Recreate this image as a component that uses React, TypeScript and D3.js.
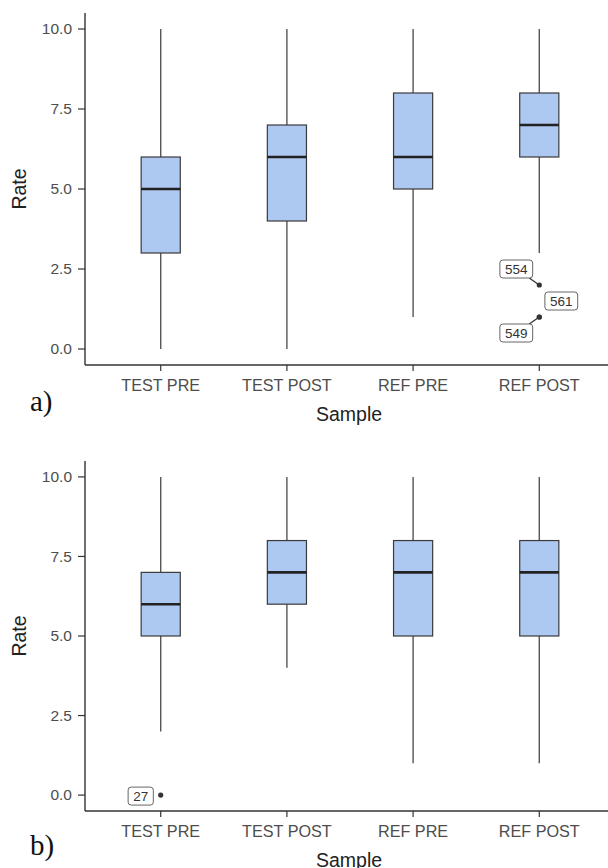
import React from "react";
import * as d3 from "d3";

const categories = ["TEST PRE", "TEST POST", "REF PRE", "REF POST"];
const yTicks = [0, 2.5, 5, 7.5, 10];

// Panel a
const aLow = [0, 0, 1, 3];
const aQ1 = [3, 4, 5, 6];
const aMed = [5, 6, 6, 7];
const aQ3 = [6, 7, 8, 8];
const aHigh = [10, 10, 10, 10];
const aOutCat = ["REF POST", "REF POST", "REF POST"];
const aOutVal = [2, 1, 1];
const aOutLabel = ["554", "549", "561"];

// Panel b
const bLow = [2, 4, 1, 1];
const bQ1 = [5, 6, 5, 5];
const bMed = [6, 7, 7, 7];
const bQ3 = [7, 8, 8, 8];
const bHigh = [10, 10, 10, 10];
const bOutCat = ["TEST PRE"];
const bOutVal = [0];
const bOutLabel = ["27"];

// label placement (layout, repel-like offsets in px)
const aLabelDx = [-23, -23, 22];
const aLabelDy = [-16, 16, -16];
const aLabelSeg = [true, true, false];
const bLabelDx = [-20];
const bLabelDy = [1];
const bLabelSeg = [false];

const SANS = "'Liberation Sans', Arial, sans-serif";

type PanelProps = {
  top: number;
  bottom: number;
  low: number[];
  q1: number[];
  med: number[];
  q3: number[];
  high: number[];
  outCat: string[];
  outVal: number[];
  outLabel: string[];
  ldx: number[];
  ldy: number[];
  lseg: boolean[];
  tag: string;
  tagY: number;
};

function Panel(p: PanelProps) {
  const left = 85;
  const x = d3.scalePoint<string>().domain(categories).range([left, 615]).padding(0.6);
  const y = d3.scaleLinear().domain([-0.5, 10.5]).range([p.bottom, p.top]);
  const step = x.step();
  const bw = step * 0.31;
  const fmt = d3.format(".1f");

  return (
    <g>
      {/* boxes */}
      {categories.map((c, i) => {
        const cx = x(c)!;
        return (
          <g key={c}>
            <line x1={cx} x2={cx} y1={y(p.high[i])} y2={y(p.q3[i])} stroke="#555" strokeWidth={1.4} />
            <line x1={cx} x2={cx} y1={y(p.q1[i])} y2={y(p.low[i])} stroke="#555" strokeWidth={1.4} />
            <rect
              x={cx - bw / 2}
              y={y(p.q3[i])}
              width={bw}
              height={y(p.q1[i]) - y(p.q3[i])}
              fill="#aec9f1"
              stroke="#3a3a3a"
              strokeWidth={1.2}
            />
            <line x1={cx - bw / 2} x2={cx + bw / 2} y1={y(p.med[i])} y2={y(p.med[i])} stroke="#222" strokeWidth={2.6} />
          </g>
        );
      })}
      {/* outliers */}
      {p.outVal.map((v, i) => {
        const px = x(p.outCat[i])!;
        const py = y(v);
        const w = p.outLabel[i].length * 7.6 + 10;
        const h = 18;
        const lx = px + p.ldx[i];
        const ly = py + p.ldy[i];
        let seg = null;
        if (p.lseg[i]) {
          const dx = lx - px;
          const dy = ly - py;
          const t = Math.min((w / 2) / Math.abs(dx || 1e-6), (h / 2) / Math.abs(dy || 1e-6));
          const ex = lx - dx * t;
          const ey = ly - dy * t;
          seg = <line x1={px} y1={py} x2={ex} y2={ey} stroke="#333" strokeWidth={1.3} />;
        }
        return (
          <g key={i}>
            {seg}
            <circle cx={px} cy={py} r={2.6} fill="#333" />
            <rect x={lx - w / 2} y={ly - h / 2} width={w} height={h} rx={3} fill="#fff" stroke="#555" strokeWidth={0.9} />
            <text x={lx} y={ly + 4.8} textAnchor="middle" fontFamily={SANS} fontSize={13.5} fill="#333">
              {p.outLabel[i]}
            </text>
          </g>
        );
      })}
      {/* y axis */}
      <line x1={left} x2={left} y1={p.top} y2={p.bottom} stroke="#333" strokeWidth={1.4} />
      {yTicks.map((t) => (
        <g key={t}>
          <line x1={left - 7} x2={left} y1={y(t)} y2={y(t)} stroke="#333" strokeWidth={1.2} />
          <text x={left - 13} y={y(t) + 5.3} textAnchor="end" fontFamily={SANS} fontSize={15.5} fill="#4d4d4d">
            {fmt(t)}
          </text>
        </g>
      ))}
      {/* x axis */}
      <line x1={left} x2={615} y1={p.bottom} y2={p.bottom} stroke="#333" strokeWidth={1.4} />
      {categories.map((c) => (
        <g key={c}>
          <line x1={x(c)!} x2={x(c)!} y1={p.bottom} y2={p.bottom + 6} stroke="#333" strokeWidth={1.2} />
          <text x={x(c)!} y={p.bottom + 25.5} textAnchor="middle" fontFamily={SANS} fontSize={16.2} fill="#4d4d4d">
            {c}
          </text>
        </g>
      ))}
      {/* titles */}
      <text
        transform={`translate(26,${(p.top + p.bottom) / 2}) rotate(-90)`}
        textAnchor="middle"
        fontFamily={SANS}
        fontSize={19.5}
        fill="#222"
      >
        Rate
      </text>
      <text x={349} y={p.bottom + 56} textAnchor="middle" fontFamily={SANS} fontSize={19.5} fill="#222">
        Sample
      </text>
      <text x={30} y={p.tagY} fontFamily="'Liberation Serif', 'Times New Roman', serif" fontSize={29} fill="#111">
        {p.tag}
      </text>
    </g>
  );
}

export default function App() {
  return (
    <svg
      width={608}
      height={868}
      style={{ position: "absolute", left: 0, top: 0, background: "#fff" }}
    >
      <rect x={0} y={0} width={608} height={868} fill="#fff" />
      <Panel
        top={13}
        bottom={365}
        low={aLow}
        q1={aQ1}
        med={aMed}
        q3={aQ3}
        high={aHigh}
        outCat={aOutCat}
        outVal={aOutVal}
        outLabel={aOutLabel}
        ldx={aLabelDx}
        ldy={aLabelDy}
        lseg={aLabelSeg}
        tag="a)"
        tagY={411}
      />
      <Panel
        top={461}
        bottom={811}
        low={bLow}
        q1={bQ1}
        med={bMed}
        q3={bQ3}
        high={bHigh}
        outCat={bOutCat}
        outVal={bOutVal}
        outLabel={bOutLabel}
        ldx={bLabelDx}
        ldy={bLabelDy}
        lseg={bLabelSeg}
        tag="b)"
        tagY={855}
      />
    </svg>
  );
}
